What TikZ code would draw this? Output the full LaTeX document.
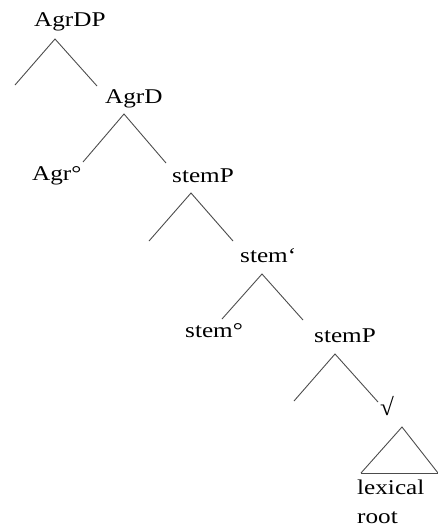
\documentclass[tikz,border=0pt]{standalone}
\usepackage{fontspec}
\setmainfont{Liberation Serif}
\begin{document}
\begin{tikzpicture}[x=1pt,y=-1pt,
  lbl/.style={anchor=base west,inner sep=0pt,font=\fontsize{21}{25}\selectfont},
  br/.style={draw=black!70,line width=0.9pt}]
\useasboundingbox (0,0) rectangle (438,528);
\newcommand{\sx}[1]{\scalebox{1.2}[1]{#1}}
% labels
\node[lbl] (agrdp) at (34,26) {\sx{AgrDP}};
\node[lbl] (agrd) at (105,103) {\sx{AgrD}};
\node[lbl] (agr) at (32,180) {\sx{Agr°}};
\node[lbl] (stemp1) at (172,182) {\sx{stemP}};
\node[lbl] (stembar) at (240,262) {\sx{stem‘}};
\node[lbl] (stem0) at (185,337) {\sx{stem°}};
\node[lbl] (stemp2) at (314,342) {\sx{stemP}};
\node[lbl] (root) at (380,415) {\scalebox{1.2}[1.15]{√}};
\node[lbl] (lex) at (357,494) {\sx{lexical}};
\node[lbl] (rootw) at (357,523) {\sx{root}};
% branch points
\coordinate (a0) at (55,39);   \coordinate (a1) at (15,85);   \coordinate (a2) at (97,86);
\coordinate (b0) at (124,114); \coordinate (b1) at (83,162);  \coordinate (b2) at (166,163);
\coordinate (c0) at (191,193); \coordinate (c1) at (149,241); \coordinate (c2) at (233,241);
\coordinate (d0) at (262,274); \coordinate (d1) at (222,319); \coordinate (d2) at (303,320);
\coordinate (e0) at (335,354); \coordinate (e1) at (294,401); \coordinate (e2) at (378,402);
\coordinate (t0) at (402,427); \coordinate (t1) at (361,473); \coordinate (t2) at (438,473);
\draw[br] (a1) -- (a0) -- (a2);
\draw[br] (b1) -- (b0) -- (b2);
\draw[br] (c1) -- (c0) -- (c2);
\draw[br] (d1) -- (d0) -- (d2);
\draw[br] (e1) -- (e0) -- (e2);
\draw[br] (t1) -- (t0) -- (t2);
\draw[br] (t1) -- (t2);
\end{tikzpicture}
\end{document}
